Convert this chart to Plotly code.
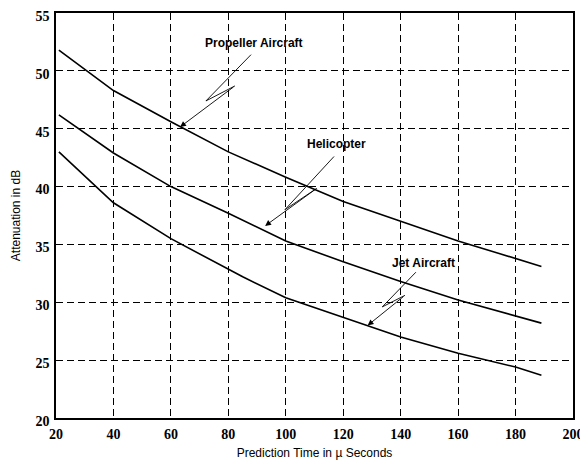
import plotly.graph_objects as go

# Data
x_vals = [21, 40, 60, 80, 100, 120, 140, 160, 189]
propeller = [51.8, 48.3, 45.6, 43.0, 40.8, 38.7, 37.0, 35.3, 33.1]
helicopter = [46.2, 42.9, 40.0, 37.7, 35.3, 33.5, 31.8, 30.2, 28.2]
jet_x = [21, 40, 60, 80, 85, 100, 120, 140, 160, 180, 189]
jet = [43.0, 38.6, 35.5, 32.9, 32.2, 30.4, 28.7, 27.0, 25.6, 24.4, 23.7]

x_ticks = [20, 40, 60, 80, 100, 120, 140, 160, 180, 200]
y_ticks = [20, 25, 30, 35, 40, 45, 50, 55]

labels = ["Propeller Aircraft", "Helicopter", "Jet Aircraft"]
label_pos = [(89.0, 52.4), (117.8, 43.7), (147.8, 33.4)]
# leader paths: top -> bend -> zig -> arrow tip
leaders = [
    [(87.9, 51.4), (72.2, 47.4), (82.3, 48.7), (63.2, 45.15)],
    [(116.8, 42.6), (99.7, 38.0), (110.8, 39.85), (92.8, 36.6)],
    [(145.3, 32.6), (133.6, 29.6), (141.5, 30.6), (128.5, 28.0)],
]

fig = go.Figure()
line_style = dict(color="black", width=1.6)
fig.add_trace(go.Scatter(x=x_vals, y=propeller, mode="lines", line=line_style, showlegend=False))
fig.add_trace(go.Scatter(x=x_vals, y=helicopter, mode="lines", line=line_style, showlegend=False))
fig.add_trace(go.Scatter(x=jet_x, y=jet, mode="lines", line=line_style, showlegend=False))

for (tx, ty), text, path in zip(label_pos, labels, leaders):
    fig.add_annotation(x=tx, y=ty, text="<b>%s</b>" % text, showarrow=False,
                       font=dict(family="Liberation Sans", size=12, color="black"))
    fig.add_trace(go.Scatter(x=[p[0] for p in path[:3]], y=[p[1] for p in path[:3]],
                             mode="lines", line=dict(color="black", width=0.9),
                             showlegend=False))
    fig.add_annotation(x=path[3][0], y=path[3][1], ax=path[2][0], ay=path[2][1],
                       xref="x", yref="y", axref="x", ayref="y", text="",
                       showarrow=True, arrowhead=2, arrowsize=1.3, arrowwidth=0.9,
                       arrowcolor="black")

axis_common = dict(
    showgrid=True, gridcolor="black", gridwidth=1.2, griddash="7px,4px",
    showline=True, linecolor="black", linewidth=1.5, mirror=True,
    ticks="", zeroline=False, automargin=False, ticklabeloverflow="allow",
    tickfont=dict(family="Liberation Serif", size=14, color="black", weight="bold"),
)

fig.update_xaxes(range=[20, 200], tickvals=x_ticks, ticktext=["<b>%d</b>" % v for v in x_ticks],
                 ticklabelstandoff=2,
                 title=dict(text="Prediction Time in µ Seconds", standoff=8,
                            font=dict(family="Liberation Sans", size=12, color="black")),
                 **axis_common)
fig.update_yaxes(range=[20, 55], tickvals=y_ticks, ticktext=["<b>%d</b>" % v for v in y_ticks],
                 ticklabelstandoff=2, ticklabelshift=3,
                 title=dict(text="Attenuation in dB", standoff=12,
                            font=dict(family="Liberation Sans", size=12, color="black")),
                 **axis_common)

# page body has an 8px margin, so the figure is sized to fit the 588x463 window
fig.update_layout(
    width=580, height=455,
    margin=dict(l=48, r=15, t=5, b=45),
    plot_bgcolor="white", paper_bgcolor="white",
)

fig.write_html("out.html")
